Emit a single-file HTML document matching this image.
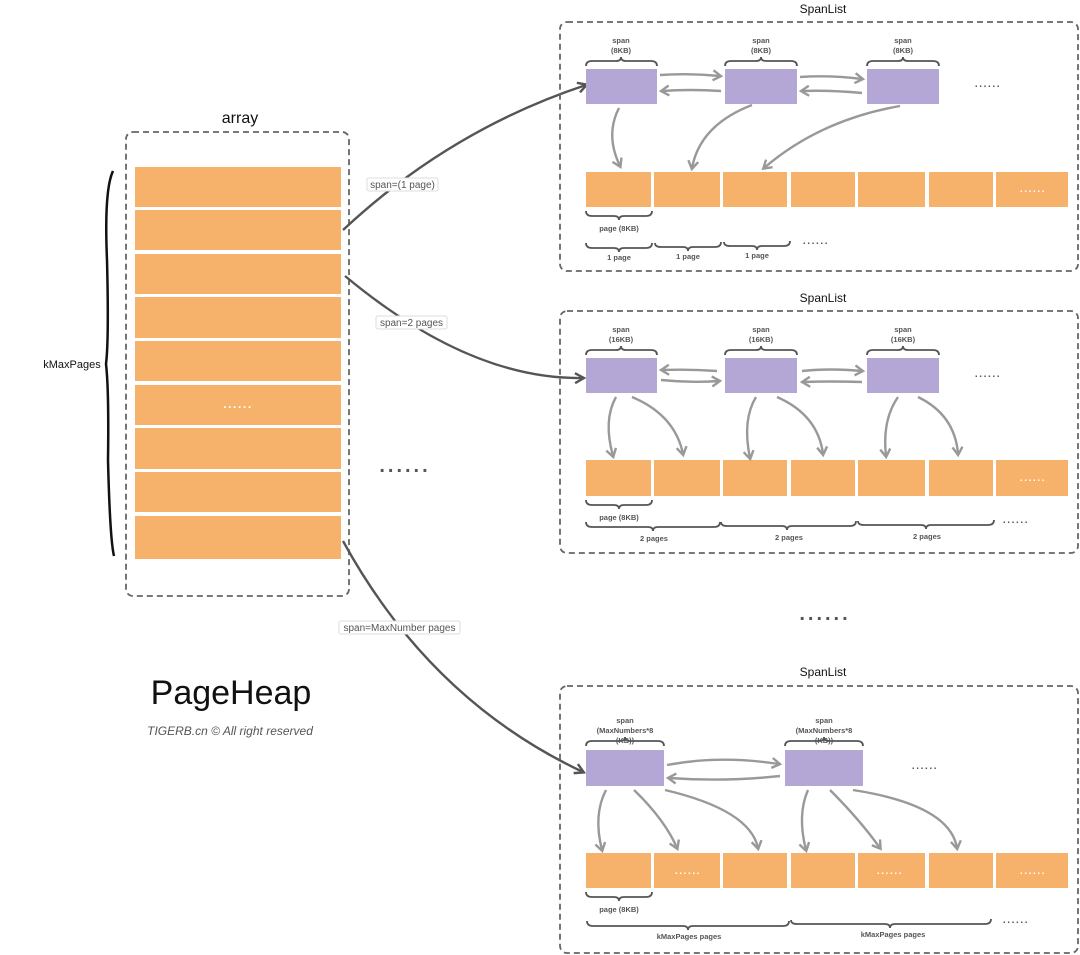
<!DOCTYPE html>
<html><head><meta charset="utf-8"><style>
html,body{margin:0;padding:0;background:#fff}
svg{display:block}
text{font-family:"Liberation Sans","DejaVu Sans",sans-serif}
.d{letter-spacing:1.6px}
.D{letter-spacing:3px}
</style></head><body>
<svg width="1080" height="955" viewBox="0 0 1080 955" xmlns="http://www.w3.org/2000/svg">
<defs>
<marker id="ag" markerWidth="12" markerHeight="12" refX="8" refY="6" orient="auto" markerUnits="userSpaceOnUse"><path d="M1,1 L9,6 L1,11" fill="none" stroke="#999" stroke-width="2.4"/></marker>
<marker id="ad" markerWidth="12" markerHeight="12" refX="9" refY="6" orient="auto" markerUnits="userSpaceOnUse"><path d="M1,1 L10,6 L1,11" fill="none" stroke="#555" stroke-width="2.4"/></marker>
</defs>

<!-- array -->
<text x="240" y="123" font-size="16" text-anchor="middle" fill="#111">array</text>
<rect x="126" y="132" width="223" height="464" rx="7" fill="none" stroke="#666" stroke-width="1.8" stroke-dasharray="6,4"/>
<g fill="#f6b26b">
<rect x="135" y="167" width="206" height="40"/>
<rect x="135" y="210" width="206" height="40"/>
<rect x="135" y="254" width="206" height="40"/>
<rect x="135" y="297" width="206" height="41"/>
<rect x="135" y="341" width="206" height="40"/>
<rect x="135" y="385" width="206" height="40"/>
<rect x="135" y="428" width="206" height="41"/>
<rect x="135" y="472" width="206" height="40"/>
<rect x="135" y="516" width="206" height="43"/>
</g>
<text class="d" x="238" y="408" font-size="12" text-anchor="middle" fill="#fff" font-weight="bold">......</text>
<path d="M113,171 Q104,190 107,260 Q109,340 106,364 Q109,390 108,460 Q110,540 114,556" fill="none" stroke="#111" stroke-width="2.5"/>
<text x="72" y="368" font-size="11" text-anchor="middle" fill="#111">kMaxPages</text>
<text class="D" x="405" y="472" font-size="20" text-anchor="middle" fill="#555" font-weight="bold">......</text>
<text x="231" y="704" font-size="34" text-anchor="middle" fill="#111">PageHeap</text>
<text x="230" y="735" font-size="12" text-anchor="middle" fill="#555" font-style="italic">TIGERB.cn © All right reserved</text>

<!-- main connectors -->
<g fill="none" stroke="#555" stroke-width="2.4">
<path d="M343,230 Q450,130 586,85" marker-end="url(#ad)"/>
<path d="M345,276 Q470,380 583,378" marker-end="url(#ad)"/>
<path d="M343,541 Q430,700 583,772" marker-end="url(#ad)"/>
</g>
<g font-size="10" fill="#555">
<rect x="367" y="178" width="71" height="13" rx="2" fill="#fff" stroke="#ddd"/><text x="402.5" y="188" text-anchor="middle">span=(1 page)</text>
<rect x="376" y="316" width="71" height="13" rx="2" fill="#fff" stroke="#ddd"/><text x="411.5" y="326" text-anchor="middle">span=2 pages</text>
<rect x="339" y="621" width="121" height="13" rx="2" fill="#fff" stroke="#ddd"/><text x="399.5" y="631" text-anchor="middle">span=MaxNumber pages</text>
</g>
<text class="D" x="825" y="620" font-size="20" text-anchor="middle" fill="#555" font-weight="bold">......</text>

<!-- Panel 1 -->
<text x="823" y="13" font-size="12" text-anchor="middle" fill="#111">SpanList</text>
<rect x="560" y="22" width="518" height="249" rx="7" fill="none" stroke="#666" stroke-width="1.8" stroke-dasharray="6,4"/>
<g fill="#b4a7d6"><rect x="586" y="69" width="71" height="35"/><rect x="725" y="69" width="72" height="35"/><rect x="867" y="69" width="72" height="35"/></g>
<g font-size="7.5" fill="#555" text-anchor="middle" font-weight="bold">
<text x="621" y="43">span</text><text x="621" y="53">(8KB)</text>
<text x="761" y="43">span</text><text x="761" y="53">(8KB)</text>
<text x="903" y="43">span</text><text x="903" y="53">(8KB)</text>
</g>
<g fill="#f6b26b">
<rect x="586" y="172" width="65" height="35"/><rect x="654" y="172" width="66" height="35"/><rect x="723" y="172" width="64" height="35"/><rect x="791" y="172" width="64" height="35"/><rect x="858" y="172" width="67" height="35"/><rect x="929" y="172" width="64" height="35"/><rect x="996" y="172" width="72" height="35"/>
</g>
<text class="d" x="1033" y="192" font-size="10" fill="#fff" text-anchor="middle" font-weight="bold">......</text>
<text class="d" x="988" y="87" font-size="10" fill="#555" text-anchor="middle" font-weight="bold">......</text>
<g fill="none" stroke="#555" stroke-width="1.8">
<path d="M586,66 Q586,61 592,61 L616,61 Q621,61 621,57 Q621,61 626,61 L651,61 Q657,61 657,66"/>
<path d="M725,66 Q725,61 731,61 L756,61 Q761,61 761,57 Q761,61 766,61 L791,61 Q797,61 797,66"/>
<path d="M867,66 Q867,61 873,61 L898,61 Q903,61 903,57 Q903,61 908,61 L933,61 Q939,61 939,66"/>
<path d="M586,211 Q586,216 592,216 L614,216 Q619,216 619,220 Q619,216 624,216 L646,216 Q652,216 652,211"/>
<path d="M586,243 Q586,248 592,248 L614,248 Q619,248 619,252 Q619,248 624,248 L646,248 Q652,248 652,243"/>
<path d="M655,243 Q655,247 661,247 L683,247 Q688,247 688,251 Q688,247 693,247 L715,247 Q721,247 721,242"/>
<path d="M724,242 Q724,246 730,246 L752,246 Q757,246 757,250 Q757,246 762,246 L784,246 Q790,246 790,241"/>
</g>
<g font-size="7.5" fill="#555" text-anchor="middle" font-weight="bold">
<text x="619" y="231">page (8KB)</text>
<text x="619" y="260">1 page</text><text x="688" y="259">1 page</text><text x="757" y="258">1 page</text>
</g>
<text class="d" x="816" y="244" font-size="10" fill="#555" text-anchor="middle" font-weight="bold">......</text>
<g fill="none" stroke="#999" stroke-width="2.4" marker-end="url(#ag)">
<path d="M660,75 Q690,73 720,76"/><path d="M721,91 Q690,89 662,91"/>
<path d="M800,77 Q830,75 862,79"/><path d="M862,93 Q830,90 802,91"/>
<path d="M619,108 Q605,135 620,166"/>
<path d="M752,105 Q700,125 692,168"/>
<path d="M900,106 Q820,120 764,168"/>
</g>

<!-- Panel 2 -->
<text x="823" y="302" font-size="12" text-anchor="middle" fill="#111">SpanList</text>
<rect x="560" y="311" width="518" height="242" rx="7" fill="none" stroke="#666" stroke-width="1.8" stroke-dasharray="6,4"/>
<g fill="#b4a7d6"><rect x="586" y="358" width="71" height="35"/><rect x="725" y="358" width="72" height="35"/><rect x="867" y="358" width="72" height="35"/></g>
<g font-size="7.5" fill="#555" text-anchor="middle" font-weight="bold">
<text x="621" y="332">span</text><text x="621" y="342">(16KB)</text>
<text x="761" y="332">span</text><text x="761" y="342">(16KB)</text>
<text x="903" y="332">span</text><text x="903" y="342">(16KB)</text>
</g>
<g fill="#f6b26b">
<rect x="586" y="460" width="65" height="36"/><rect x="654" y="460" width="66" height="36"/><rect x="723" y="460" width="64" height="36"/><rect x="791" y="460" width="64" height="36"/><rect x="858" y="460" width="67" height="36"/><rect x="929" y="460" width="64" height="36"/><rect x="996" y="460" width="72" height="36"/>
</g>
<text class="d" x="1033" y="481" font-size="10" fill="#fff" text-anchor="middle" font-weight="bold">......</text>
<text class="d" x="988" y="377" font-size="10" fill="#555" text-anchor="middle" font-weight="bold">......</text>
<g fill="none" stroke="#555" stroke-width="1.8">
<path d="M586,355 Q586,350 592,350 L616,350 Q621,350 621,346 Q621,350 626,350 L651,350 Q657,350 657,355"/>
<path d="M725,355 Q725,350 731,350 L756,350 Q761,350 761,346 Q761,350 766,350 L791,350 Q797,350 797,355"/>
<path d="M867,355 Q867,350 873,350 L898,350 Q903,350 903,346 Q903,350 908,350 L933,350 Q939,350 939,355"/>
<path d="M586,500 Q586,505 592,505 L614,505 Q619,505 619,509 Q619,505 624,505 L646,505 Q652,505 652,500"/>
<path d="M586,522 Q586,527 592,527 L648,527 Q653,527 653,531 Q653,527 658,527 L714,527 Q720,527 720,522"/>
<path d="M721,522 Q721,526 727,526 L782,526 Q787,526 787,530 Q787,526 792,526 L850,526 Q856,526 856,521"/>
<path d="M858,521 Q858,525 864,525 L921,525 Q926,525 926,529 Q926,525 931,525 L988,525 Q994,525 994,520"/>
</g>
<g font-size="7.5" fill="#555" text-anchor="middle" font-weight="bold">
<text x="619" y="520">page (8KB)</text>
<text x="654" y="541">2 pages</text><text x="789" y="540">2 pages</text><text x="927" y="539">2 pages</text>
</g>
<text class="d" x="1016" y="523" font-size="10" fill="#555" text-anchor="middle" font-weight="bold">......</text>
<g fill="none" stroke="#999" stroke-width="2.4" marker-end="url(#ag)">
<path d="M717,371 Q690,369 662,370"/><path d="M661,380 Q690,383 719,381"/>
<path d="M802,371 Q830,368 862,371"/><path d="M862,382 Q830,381 803,382"/>
<path d="M616,397 Q603,420 613,456"/><path d="M632,397 Q675,415 683,454"/>
<path d="M756,397 Q742,420 750,458"/><path d="M777,397 Q818,415 823,454"/>
<path d="M898,397 Q882,420 886,456"/><path d="M918,397 Q955,415 958,454"/>
</g>

<!-- Panel 3 -->
<text x="823" y="676" font-size="12" text-anchor="middle" fill="#111">SpanList</text>
<rect x="560" y="686" width="518" height="267" rx="7" fill="none" stroke="#666" stroke-width="1.8" stroke-dasharray="6,4"/>
<g fill="#b4a7d6"><rect x="586" y="750" width="78" height="36"/><rect x="785" y="750" width="78" height="36"/></g>
<g font-size="7.5" fill="#555" text-anchor="middle" font-weight="bold">
<text x="625" y="723">span</text><text x="625" y="733">(MaxNumbers*8</text><text x="625" y="743">(KB))</text>
<text x="824" y="723">span</text><text x="824" y="733">(MaxNumbers*8</text><text x="824" y="743">(KB))</text>
</g>
<g fill="#f6b26b">
<rect x="586" y="853" width="65" height="35"/><rect x="654" y="853" width="66" height="35"/><rect x="723" y="853" width="64" height="35"/><rect x="791" y="853" width="64" height="35"/><rect x="858" y="853" width="67" height="35"/><rect x="929" y="853" width="64" height="35"/><rect x="996" y="853" width="72" height="35"/>
</g>
<g class="d" font-size="10" fill="#fff" text-anchor="middle" font-weight="bold"><text x="688" y="874">......</text><text x="890" y="874">......</text><text x="1033" y="874">......</text></g>
<text class="d" x="925" y="769" font-size="10" fill="#555" text-anchor="middle" font-weight="bold">......</text>
<g fill="none" stroke="#555" stroke-width="1.8">
<path d="M586,746 Q586,741 592,741 L620,741 Q625,741 625,737 Q625,741 630,741 L658,741 Q664,741 664,746"/>
<path d="M785,746 Q785,741 791,741 L819,741 Q824,741 824,737 Q824,741 829,741 L857,741 Q863,741 863,746"/>
<path d="M586,892 Q586,897 592,897 L614,897 Q619,897 619,901 Q619,897 624,897 L646,897 Q652,897 652,892"/>
<path d="M587,921 Q587,926 593,926 L683,926 Q688,926 688,930 Q688,926 693,926 L783,926 Q789,926 789,921"/>
<path d="M791,920 Q791,924 797,924 L885,924 Q890,924 890,928 Q890,924 895,924 L985,924 Q991,924 991,919"/>
</g>
<g font-size="7.5" fill="#555" text-anchor="middle" font-weight="bold">
<text x="619" y="912">page (8KB)</text>
<text x="689" y="939">kMaxPages pages</text><text x="893" y="937">kMaxPages pages</text>
</g>
<text class="d" x="1016" y="923" font-size="10" fill="#555" text-anchor="middle" font-weight="bold">......</text>
<g fill="none" stroke="#999" stroke-width="2.4" marker-end="url(#ag)">
<path d="M667,765 Q720,755 779,764"/><path d="M780,776 Q725,782 669,778"/>
<path d="M606,790 Q593,815 602,850"/><path d="M634,790 Q665,820 677,848"/><path d="M665,790 Q750,810 758,848"/>
<path d="M808,790 Q797,815 806,850"/><path d="M830,790 Q860,820 880,848"/><path d="M853,790 Q950,805 957,848"/>
</g>
</svg>
</body></html>
